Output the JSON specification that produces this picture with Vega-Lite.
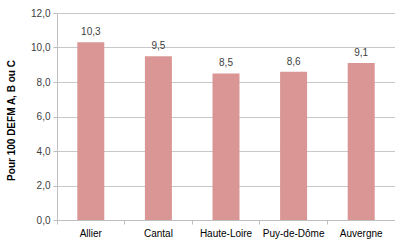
{
  "$schema": "https://vega.github.io/schema/vega-lite/v6.json",
  "width": 338,
  "height": 207,
  "autosize": {"type": "none"},
  "padding": {"left": 57, "top": 13, "right": 0, "bottom": 23},
  "background": "white",
  "config": {
    "view": {"stroke": null},
    "font": "Liberation Sans",
    "locale": {
      "number": {"decimal": ",", "thousands": " ", "grouping": [3], "currency": ["", " €"]}
    }
  },
  "data": {
    "values": [
      {"zone": "Allier", "valeur": 10.3},
      {"zone": "Cantal", "valeur": 9.5},
      {"zone": "Haute-Loire", "valeur": 8.5},
      {"zone": "Puy-de-Dôme", "valeur": 8.6},
      {"zone": "Auvergne", "valeur": 9.1}
    ]
  },
  "encoding": {
    "x": {
      "field": "zone",
      "type": "nominal",
      "sort": null,
      "scale": {"paddingInner": 0, "paddingOuter": 0},
      "axis": {
        "title": null,
        "labelAngle": 0,
        "labelFontSize": 10,
        "labelColor": "#000000",
        "labelPadding": 4,
        "bandPosition": 0,
        "ticks": true,
        "tickSize": 4,
        "tickColor": "#bfbfbf",
        "domainColor": "#bfbfbf",
        "grid": false
      }
    },
    "y": {
      "field": "valeur",
      "type": "quantitative",
      "scale": {"domain": [0, 12]},
      "axis": {
        "values": [0, 2, 4, 6, 8, 10, 12],
        "format": ".1f",
        "labelFontSize": 10,
        "labelColor": "#404040",
        "labelPadding": 3,
        "tickSize": 4,
        "tickColor": "#bfbfbf",
        "domainColor": "#bfbfbf",
        "gridColor": "#c8c8c8",
        "title": "Pour 100 DEFM A, B ou C",
        "titleFontSize": 10,
        "titleFontWeight": "bold",
        "titleColor": "#000000",
        "titleX": -41,
        "titleY": 107,
        "titleAngle": -90,
        "titleAlign": "center",
        "titleBaseline": "bottom"
      }
    }
  },
  "layer": [
    {
      "mark": {"type": "bar", "size": 27, "color": "#D99694"}
    },
    {
      "mark": {"type": "text", "dy": -10, "fontSize": 10, "color": "#404040"},
      "encoding": {
        "text": {"field": "valeur", "type": "quantitative", "format": ".1f"}
      }
    }
  ]
}
